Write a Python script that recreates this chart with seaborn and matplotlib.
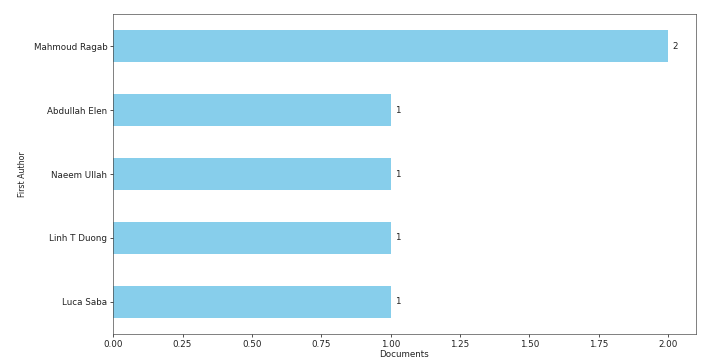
import matplotlib
matplotlib.use("Agg")
import matplotlib.pyplot as plt
import seaborn as sns
import pandas as pd

# authors, top to bottom as drawn
authors = ["Mahmoud Ragab", "Abdullah Elen", "Naeem Ullah", "Linh T Duong", "Luca Saba"]
documents = [2, 1, 1, 1, 1]

df = pd.DataFrame({"First Author": authors, "Documents": documents})

fig, ax = plt.subplots(figsize=(721 / 60, 361 / 60), dpi=60)
sns.barplot(data=df, x="Documents", y="First Author", orient="h",
            color="skyblue", saturation=1, width=0.5, ax=ax)

for c in ax.containers:
    ax.bar_label(c, labels=[str(v) for v in documents], padding=5, fontsize=10.5, color="#222222")

ax.set_xlim(0, 2.1)
ax.set_ylim(4.5, -0.5)
ax.set_xlabel("Documents", fontsize=10.5, color="#222222", labelpad=2)
ax.set_ylabel("First Author", fontsize=9.5, color="#222222", labelpad=8)
ax.tick_params(labelsize=10.5, labelcolor="#222222")
for s in ax.spines.values():
    s.set_color("#444444")

plt.subplots_adjust(left=0.157, right=0.965, top=0.961, bottom=0.075)
fig.savefig("out.png", dpi=60)
